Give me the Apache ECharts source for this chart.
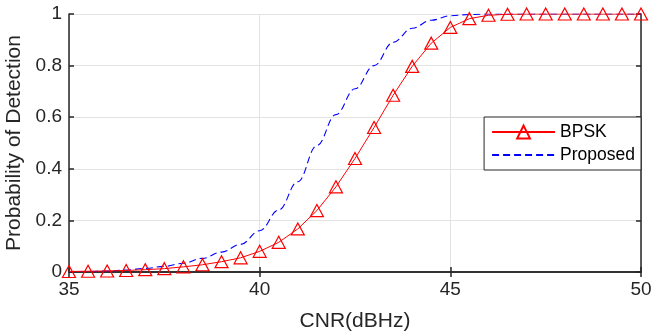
<!DOCTYPE html>
<html>
<head>
<meta charset="utf-8">
<script src="https://cdn.jsdelivr.net/npm/echarts@6/dist/echarts.min.js"></script>
<style>html,body{margin:0;padding:0;background:#fff}#c{width:651px;height:333px}</style>
</head>
<body>
<div id="c"></div>
<script>
const cnr = [35,35.5,36,36.5,37,37.5,38,38.5,39,39.5,40,40.5,41,41.5,42,42.5,43,43.5,44,44.5,45,45.5,46,46.5,47,47.5,48,48.5,49,49.5,50];
const bpsk = [0.002,0.003,0.004,0.006,0.009,0.013,0.02,0.028,0.04,0.055,0.08,0.115,0.167,0.238,0.33,0.44,0.56,0.685,0.797,0.887,0.948,0.982,0.995,0.999,1,1,1,1,1,1,1];
const proposed = [0.001,0.002,0.004,0.008,0.014,0.022,0.034,0.053,0.077,0.107,0.16,0.24,0.35,0.49,0.61,0.71,0.80,0.89,0.945,0.976,0.993,0.998,1,1,1,1,1,1,1,1,1];
const xTicks = [35,40,45,50];
const yTicks = [0,0.2,0.4,0.6,0.8,1];

const font = 'Liberation Sans, Arial, Helvetica, sans-serif';
const axisCol = '#262626';
const chart = echarts.init(document.getElementById('c'), null, {renderer:'canvas'});
const pair = (xs, ys) => xs.map((x,i)=>[x, ys[i]]);
chart.setOption({
  animation:false,
  backgroundColor:'#fff',
  grid:{left:69,right:10,top:14,bottom:61,containLabel:false,outerBoundsMode:'none'},
  legend:{
    right:10, top:117,
    orient:'vertical',
    backgroundColor:'#fff',
    borderColor:axisCol, borderWidth:1, borderRadius:0,
    padding:[6,6,6,7],
    itemGap:5,
    itemWidth:63, itemHeight:16,
    textStyle:{fontFamily:font,fontSize:17.5,color:'#000'},
    data:[
      {name:'BPSK'},
      {name:'Proposed', itemStyle:{color:'rgba(0,0,0,0)',borderColor:'rgba(0,0,0,0)',opacity:0}}
    ]
  },
  xAxis:[{
    type:'value', min:35, max:50, interval:5,
    name:'CNR(dBHz)', nameLocation:'middle', nameGap:39,
    nameTextStyle:{fontFamily:font,fontSize:21,color:axisCol},
    axisLine:{show:true,lineStyle:{color:axisCol,width:1.5}},
    axisTick:{show:true,inside:true,length:5,lineStyle:{color:axisCol,width:1.5}},
    axisLabel:{fontFamily:font,fontSize:19,color:axisCol,margin:8},
    splitLine:{show:true,lineStyle:{color:'#e3e3e3',width:1}}
  },{
    type:'value', min:35, max:50, interval:5, position:'top',
    axisLine:{show:true,lineStyle:{color:axisCol,width:1.5}},
    axisTick:{show:true,inside:true,length:5,lineStyle:{color:axisCol,width:1.5}},
    axisLabel:{show:false}, splitLine:{show:false}
  }],
  yAxis:[{
    type:'value', min:0, max:1, interval:0.2,
    name:'Probability of Detection', nameLocation:'middle', nameGap:36,
    nameTextStyle:{fontFamily:font,fontSize:21,color:axisCol},
    axisLine:{show:true,lineStyle:{color:axisCol,width:1.5}},
    axisTick:{show:true,inside:true,length:5,lineStyle:{color:axisCol,width:1.5}},
    axisLabel:{fontFamily:font,fontSize:19,color:axisCol,margin:7,
      formatter:v=>String(Math.round(v*10)/10)},
    splitLine:{show:true,lineStyle:{color:'#e3e3e3',width:1}}
  },{
    type:'value', min:0, max:1, interval:0.2, position:'right',
    axisLine:{show:true,lineStyle:{color:axisCol,width:1.5}},
    axisTick:{show:true,inside:true,length:5,lineStyle:{color:axisCol,width:1.5}},
    axisLabel:{show:false}, splitLine:{show:false}
  }],
  series:[{
    name:'BPSK', type:'line', data:pair(cnr,bpsk),
    symbol:'triangle', symbolSize:[13,12], showAllSymbol:true,
    lineStyle:{color:'#ff0000',width:1},
    itemStyle:{color:'rgba(255,255,255,0)',borderColor:'#ff0000',borderWidth:1.2},
    z:3
  },{
    name:'Proposed', type:'line', data:pair(cnr,proposed),
    smooth:0.4, smoothMonotone:'x', symbol:'none',
    lineStyle:{color:'#0000ff',width:1.1,type:[7,4]},
    itemStyle:{color:'#0000ff'},
    z:2
  }]
});
</script>
</body>
</html>
